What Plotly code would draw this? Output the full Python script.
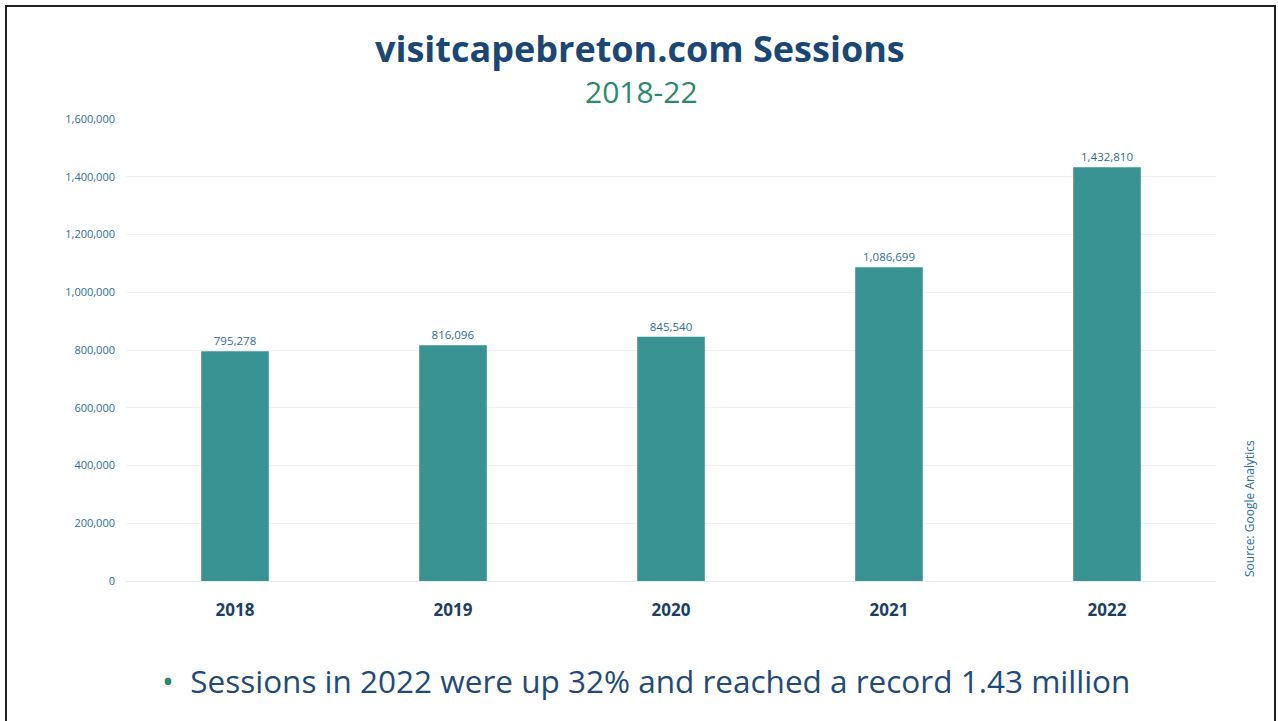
import plotly.graph_objects as go

years = ["2018", "2019", "2020", "2021", "2022"]
sessions = [795278, 816096, 845540, 1086699, 1432810]
y_ticks = [0, 200000, 400000, 600000, 800000, 1000000, 1200000, 1400000, 1600000]
y_tick_labels = ["0", "200,000", "400,000", "600,000", "800,000", "1,000,000", "1,200,000", "1,400,000", "1,600,000"]

W, H = 1278, 721
L, R, T, B = 126, 62, 119, 140
pw, ph = W - L - R, H - T - B

def px(x):
    return (x - L) / pw

def py(y):
    return (H - B - y) / ph

fig = go.Figure()
fig.add_trace(go.Bar(
    x=years, y=sessions,
    marker=dict(color="#3a9393", line=dict(width=0)),
    width=0.31,
    text=[f"{v:,}" for v in sessions],
    textposition="outside",
    textfont=dict(family="Open Sans", size=11.5, color="#2a6f9e"),
    cliponaxis=False,
))

fig.update_layout(
    width=W, height=H,
    margin=dict(l=L, r=R, t=T, b=B),
    paper_bgcolor="white", plot_bgcolor="white",
    showlegend=False,
    xaxis=dict(
        range=[-0.5, 4.5], showgrid=False, showline=False, zeroline=False,
        tickfont=dict(family="Open Sans", size=17, color="#1d3f66", weight="bold"),
        ticklabelstandoff=17,
    ),
    yaxis=dict(
        range=[0, 1600000], tickvals=y_ticks, ticktext=y_tick_labels,
        showgrid=True, gridcolor="#f2f2f2", gridwidth=1,
        zeroline=True, zerolinecolor="#e8e8e8", zerolinewidth=1,
        showline=False,
        tickfont=dict(family="Open Sans", size=11, color="#2a6f9e"),
        ticklabelstandoff=10,
    ),
    font=dict(family="Open Sans"),
)

fig.add_annotation(
    x=px(640), y=py(48), xref="paper", yref="paper",
    text="<b>visitcapebreton.com Sessions</b>", showarrow=False,
    font=dict(family="Open Sans", size=36, color="#1b4775"),
    xanchor="center", yanchor="middle",
)
fig.add_annotation(
    x=px(641), y=py(91), xref="paper", yref="paper",
    text="2018-22", showarrow=False,
    font=dict(family="Open Sans", size=30, color="#2a8a6a"),
    xanchor="center", yanchor="middle",
)
fig.add_annotation(
    x=px(160), y=py(680), xref="paper", yref="paper",
    text="<span style='color:#2a8a6a'>•</span>  Sessions in 2022 were up 32% and reached a record 1.43 million",
    showarrow=False,
    font=dict(family="Open Sans", size=31.5, color="#1f4b7a"),
    xanchor="left", yanchor="middle",
)
fig.add_annotation(
    x=px(1249), y=py(509), xref="paper", yref="paper",
    text="Source: Google Analytics", showarrow=False, textangle=-90,
    font=dict(family="Open Sans", size=12, color="#2a6f9e"),
    xanchor="center", yanchor="middle",
)

fig.add_shape(
    type="rect", xref="paper", yref="paper",
    x0=px(6), x1=px(1275), y0=py(740), y1=py(6),
    line=dict(color="#222222", width=2), fillcolor="rgba(0,0,0,0)", layer="above",
)

fig.write_html("out.html")
